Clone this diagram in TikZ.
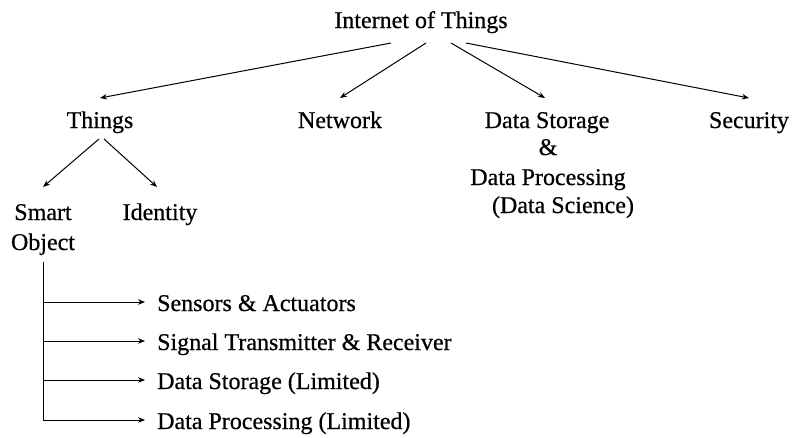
\documentclass[tikz,border=0pt]{standalone}
\usepackage{fontspec}
\setmainfont[FakeBold=0.6]{Liberation Serif}
\usetikzlibrary{arrows.meta}
\begin{document}
\begin{tikzpicture}[x=1pt,y=-1pt,
  lbl/.style={inner sep=0pt,anchor=base,font=\fontsize{24}{29}\selectfont},
  item/.style={inner sep=0pt,anchor=base west,font=\fontsize{24}{29}\selectfont},
  arr/.style={line width=1pt,-{Stealth[length=7pt,width=5.5pt]}},
  ln/.style={line width=1pt}]
\useasboundingbox[fill=white] (0,0) rectangle (792,437);
% nodes
\node[lbl] (iot) at (421,28) {Internet of Things};
\node[lbl] (things) at (100,128) {Things};
\node[lbl] (network) at (340,128) {Network};
\node[lbl] (ds1) at (547,128) {Data Storage};
\node[lbl] (ds2) at (548,155) {\&};
\node[lbl] (ds3) at (548,185) {Data Processing};
\node[lbl] (ds4) at (563,213) {(Data Science)};
\node[lbl] (security) at (749,128) {Security};
\node[lbl] (smart) at (43,220) {Smart};
\node[lbl] (object) at (43,250) {Object};
\node[lbl] (identity) at (160,220) {Identity};
\node[item] (s1) at (157,311) {Sensors \& Actuators};
\node[item] (s2) at (157,350) {Signal Transmitter \& Receiver};
\node[item] (s3) at (157,389) {Data Storage (Limited)};
\node[item] (s4) at (157,429) {Data Processing (Limited)};
% top arrows
\draw[arr] ([xshift=-30pt,yshift=-15pt]iot.base) -- ([yshift=30pt]things.base);
\draw[arr] ([xshift=5pt,yshift=-15pt]iot.base) -- ([yshift=30pt]network.base);
\draw[arr] ([xshift=30pt,yshift=-15pt]iot.base) -- ([xshift=-2pt,yshift=30pt]ds1.base);
\draw[arr] ([xshift=45pt,yshift=-15pt]iot.base) -- ([yshift=30pt]security.base);
% things arrows
\draw[arr] ([xshift=-1pt,yshift=-11pt]things.base) -- ([yshift=33pt]smart.base);
\draw[arr] ([xshift=4pt,yshift=-11pt]things.base) -- ([xshift=-3pt,yshift=33pt]identity.base);
% smart object branches
\coordinate (b1) at ([xshift=-12pt,yshift=9pt]s1.base west);
\coordinate (b2) at ([xshift=-12pt,yshift=9pt]s2.base west);
\coordinate (b3) at ([xshift=-12pt,yshift=9pt]s3.base west);
\coordinate (b4) at ([xshift=-12pt,yshift=9pt]s4.base west);
\draw[ln] ([yshift=-12pt]object.base) -- (object.base |- b4);
\draw[arr] (object.base |- b1) -- (b1);
\draw[arr] (object.base |- b2) -- (b2);
\draw[arr] (object.base |- b3) -- (b3);
\draw[arr] (object.base |- b4) -- (b4);
\end{tikzpicture}
\end{document}
